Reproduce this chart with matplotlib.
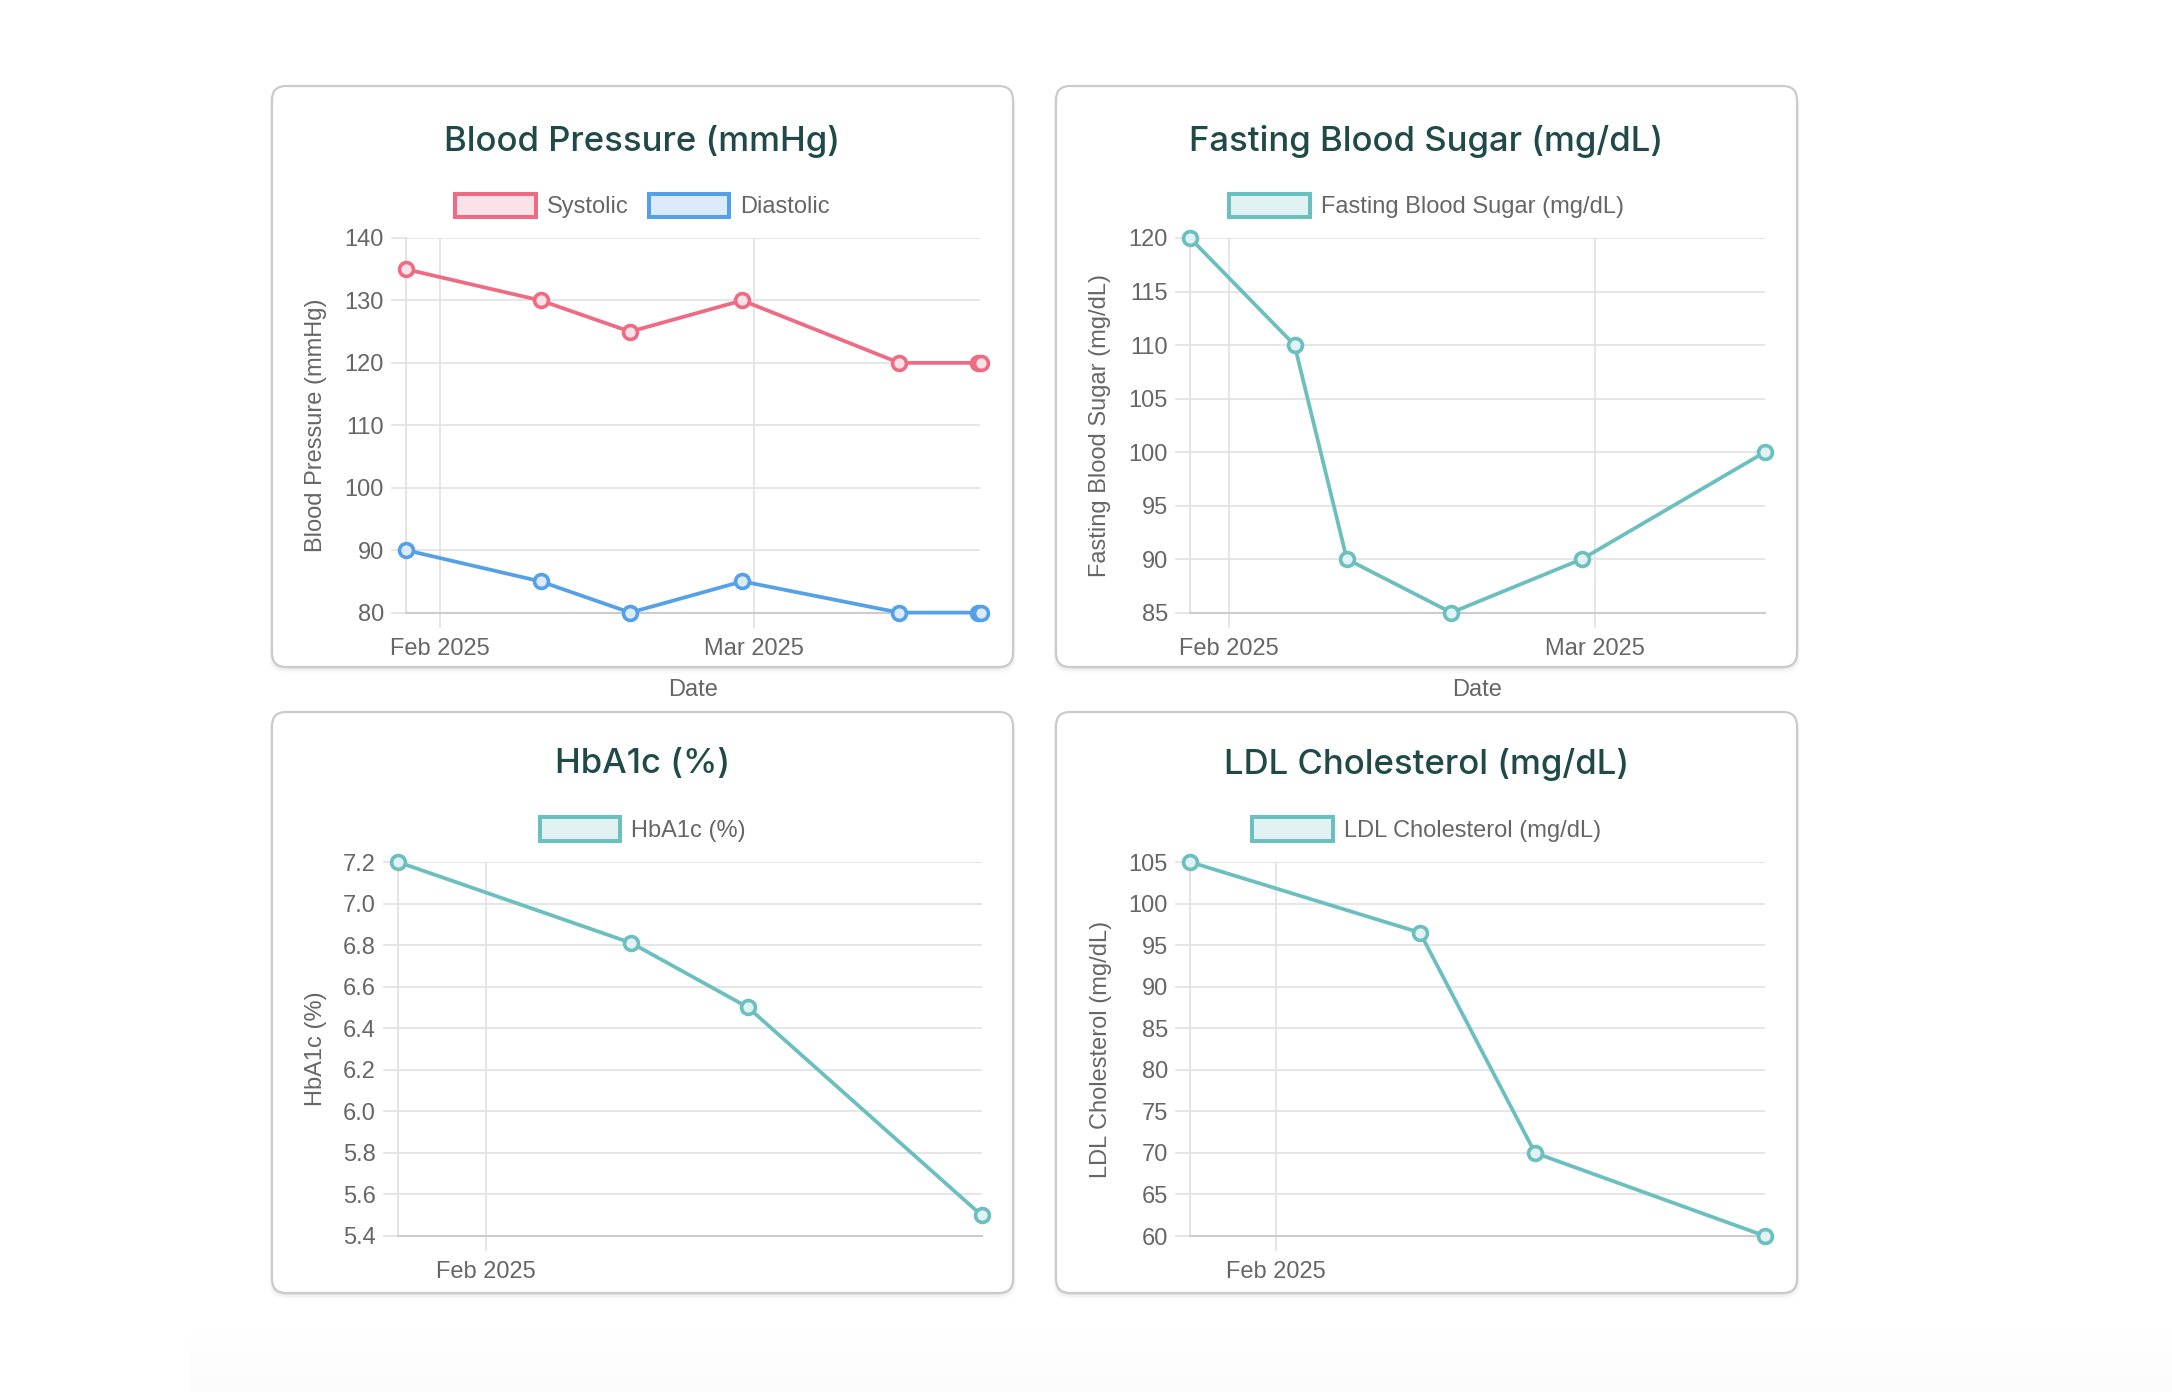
import matplotlib.pyplot as plt
import matplotlib.dates as mdates
from matplotlib.patches import FancyBboxPatch, Patch
import numpy as np
import pandas as pd

plt.rcParams['font.family'] = ['Liberation Sans', 'DejaVu Sans']

# data
bp_dates = ['2025-01-29 00:00', '2025-02-10 00:00', '2025-02-18 00:00', '2025-02-28 00:00',
            '2025-03-14 00:00', '2025-03-21 00:00', '2025-03-21 06:00']
systolic = [135, 130, 125, 130, 120, 120, 120]
diastolic = [90, 85, 80, 85, 80, 80, 80]

sugar_dates = ['2025-01-29', '2025-02-06', '2025-02-10', '2025-02-18',
               '2025-02-28', '2025-03-14']
sugar = [120, 110, 90, 85, 90, 100]

lab_dates = ['2025-01-29', '2025-02-06', '2025-02-10', '2025-02-18']
hba1c = [7.2, 6.81, 6.5, 5.5]
ldl = [105, 96.5, 70, 60]

PINK = '#ef6a83'
PINK_FILL = '#fbe2e7'
BLUE = '#55a0e6'
BLUE_FILL = '#dcebfb'
TEAL = '#6bbfbf'
TEAL_FILL = '#e1f2f2'
TITLE_C = '#1f4a48'
TXT = '#666666'
GRID = '#e4e4e4'

W, H = 2172, 1392
fig = plt.figure(figsize=(W / 100, H / 100), dpi=100)
fig.patch.set_facecolor('white')

# page / cards in pixel coordinates
bg = fig.add_axes([0, 0, 1, 1], zorder=-1)
grad = np.linspace(0, 1, 60).reshape(-1, 1)
bg.imshow(grad, cmap='Greys', vmin=0, vmax=40, extent=(190, W, H, 1320),
          aspect='auto')
bg.set_xlim(0, W)
bg.set_ylim(H, 0)
bg.axis('off')

cards = [(272, 86), (1056, 86), (272, 712), (1056, 712)]
cw, ch = 741, 581
for (x, y) in cards:
    for k, a in [(6, 0.02), (4, 0.03), (2, 0.045)]:
        bg.add_patch(FancyBboxPatch((x - k / 2, y + k / 2), cw + k, ch + k / 2,
                                    boxstyle='round,pad=0,rounding_size=16',
                                    fc='black', ec='none', alpha=a))
    bg.add_patch(FancyBboxPatch((x, y), cw, ch, boxstyle='round,pad=0,rounding_size=14',
                                fc='white', ec='#cbcbcb', lw=1.6))


def add_px_axes(x0, y0, x1, y1):
    return fig.add_axes([x0 / W, 1 - y1 / H, (x1 - x0) / W, (y1 - y0) / H])


def style(ax, dates, lo, hi, n, fmt, ylabel, box, ylab_x, xlabel=None):
    x0, y0, x1, y1 = box
    ax.set_facecolor('none')
    ax.set_xlim(dates.min(), dates.max())
    ax.set_ylim(lo, hi)
    ax.set_yticks(np.linspace(lo, hi, n))
    ax.yaxis.set_major_formatter(plt.FormatStrFormatter(fmt))
    ax.xaxis.set_major_locator(mdates.MonthLocator())
    ax.xaxis.set_major_formatter(mdates.DateFormatter('%b %Y'))
    ax.grid(True, color=GRID, lw=1.3)
    ax.set_axisbelow(True)
    for s in ['top', 'right']:
        ax.spines[s].set_visible(False)
    ax.spines['left'].set_color('#e0e0e0')
    ax.spines['left'].set_linewidth(1.3)
    ax.spines['bottom'].set_color('#cccccc')
    ax.spines['bottom'].set_linewidth(1.5)
    ax.tick_params(length=11, width=1.3, color=GRID, labelcolor=TXT, labelsize=17)
    ax.tick_params(axis='y', pad=5)
    ax.tick_params(axis='x', pad=7)
    ax.set_ylabel(ylabel, fontsize=17, color=TXT)
    ax.yaxis.set_label_coords((ylab_x - x0) / (x1 - x0), 0.5)
    ax.yaxis.label.set_va('center')
    if xlabel:
        ax.set_xlabel(xlabel, fontsize=17, color=TXT)
        ax.xaxis.set_label_coords(0.5, -(690 - y1) / (y1 - y0))
        ax.xaxis.label.set_va('center')


def line(ax, dates, vals, c, fill):
    ax.plot(dates, vals, color=c, lw=2.7, marker='o', ms=10, mew=2.6,
            mfc=fill, mec=c, clip_on=False, zorder=3)


def header(cx, ty, ly, title, items):
    fig.text(cx / W, 1 - ty / H, title, ha='center', va='center', fontsize=25,
             color=TITLE_C, family=['Inter', 'Lato'], weight='medium')
    handles = [Patch(fc=f, ec=c, lw=2.9) for (_, c, f) in items]
    fig.legend(handles, [t for (t, _, _) in items], loc='center',
               bbox_to_anchor=(cx / W, 1 - ly / H), bbox_transform=fig.transFigure,
               ncol=len(items), frameon=False, fontsize=17, labelcolor=TXT,
               handlelength=3.4, handleheight=1.15, handletextpad=0.47,
               columnspacing=0.85)


# Blood pressure
d = pd.to_datetime(bp_dates)
box = (406, 238, 980.5, 612.6)
ax = add_px_axes(*box)
line(ax, d, systolic, PINK, PINK_FILL)
line(ax, d, diastolic, BLUE, BLUE_FILL)
style(ax, d, 80, 140, 7, '%d', 'Blood Pressure (mmHg)', box, 316, 'Date')
header(642.5, 141, 206, 'Blood Pressure (mmHg)',
       [('Systolic', PINK, PINK_FILL), ('Diastolic', BLUE, BLUE_FILL)])

# Fasting blood sugar
d = pd.to_datetime(sugar_dates)
box = (1190, 238, 1765, 612.6)
ax = add_px_axes(*box)
line(ax, d, sugar, TEAL, TEAL_FILL)
style(ax, d, 85, 120, 8, '%d', 'Fasting Blood Sugar (mg/dL)', box, 1100, 'Date')
header(1426.5, 141, 206, 'Fasting Blood Sugar (mg/dL)',
       [('Fasting Blood Sugar (mg/dL)', TEAL, TEAL_FILL)])

# HbA1c
d = pd.to_datetime(lab_dates)
box = (398, 862, 981.5, 1236)
ax = add_px_axes(*box)
line(ax, d, hba1c, TEAL, TEAL_FILL)
style(ax, d, 5.4, 7.2, 10, '%.1f', 'HbA1c (%)', box, 316)
header(642.5, 764.5, 829.5, 'HbA1c (%)', [('HbA1c (%)', TEAL, TEAL_FILL)])

# LDL
box = (1190, 862, 1765, 1236)
ax = add_px_axes(*box)
line(ax, d, ldl, TEAL, TEAL_FILL)
style(ax, d, 60, 105, 10, '%d', 'LDL Cholesterol (mg/dL)', box, 1101)
header(1426.5, 764.5, 829.5, 'LDL Cholesterol (mg/dL)',
       [('LDL Cholesterol (mg/dL)', TEAL, TEAL_FILL)])

fig.savefig('out.png', dpi=100, facecolor=fig.get_facecolor())
